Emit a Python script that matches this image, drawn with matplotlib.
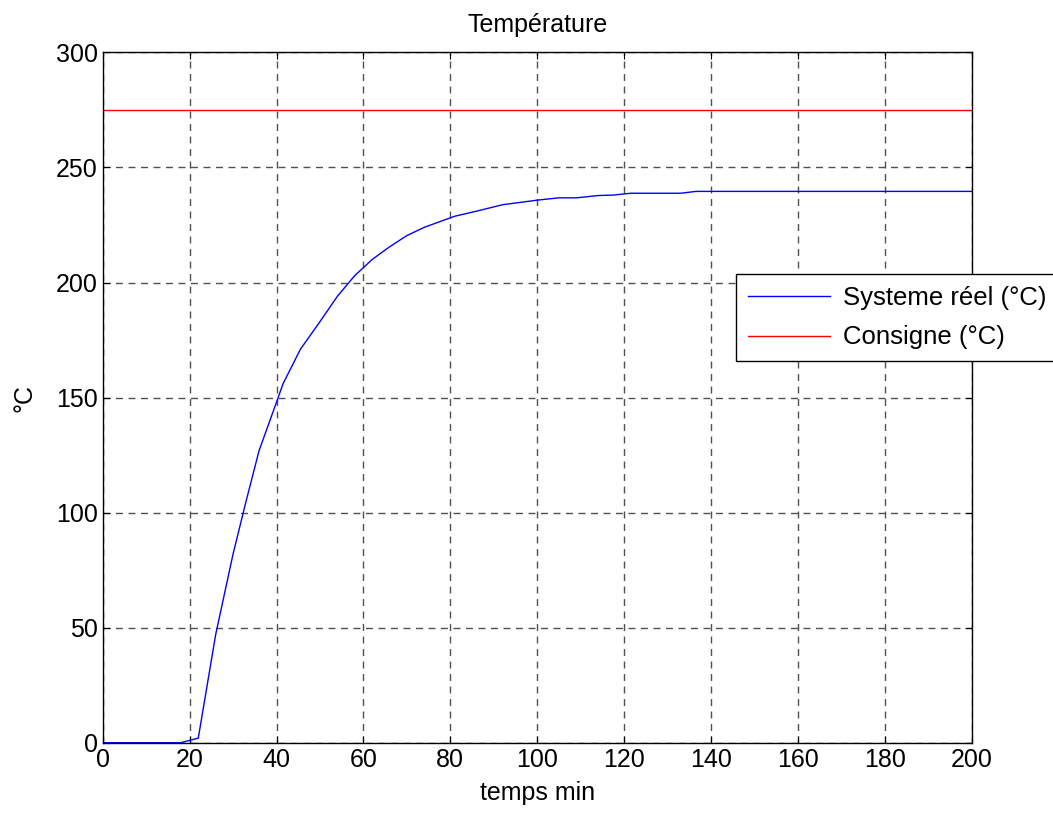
import numpy as np
import matplotlib.pyplot as plt

plt.rcParams['font.family'] = ['Liberation Sans', 'DejaVu Sans']

# temps (min) and measured temperature (°C)
temps = [0, 10, 18, 20, 22, 26, 30, 33, 36, 40, 41.5, 45.5, 50, 54, 58, 62, 66, 70,
         74, 81, 86, 92, 100, 105, 109, 114, 117.5, 121.5, 133, 136.5, 150, 200]
systeme = [0, 0, 0, 1, 2, 47, 82, 105, 127, 148, 156, 171, 183, 194, 203, 210, 215.5, 220.4,
           224, 228.8, 231, 233.8, 235.8, 236.8, 236.8, 237.8, 238, 238.8, 238.8, 239.6, 239.6, 239.6]
consigne_t = [0, 200]
consigne = [275, 275]

fig = plt.figure(figsize=(10.53, 8.14), dpi=100)
ax = fig.add_axes([0.0975, 0.0876, 0.8255, 0.848])

ax.plot(temps, systeme, color='blue', linewidth=1.0, label='Systeme réel (°C)')
ax.plot(consigne_t, consigne, color='red', linewidth=1.0, label='Consigne (°C)')

ax.set_xlim(0, 200)
ax.set_ylim(0, 300)
ax.set_xticks(np.arange(0, 201, 20))
ax.set_yticks(np.arange(0, 301, 50))
ax.tick_params(direction='in', labelsize=18, length=5, top=True, right=True)
ax.grid(True, linestyle=(0, (5, 4)), color='#505050', linewidth=1.0)
for s in ax.spines.values():
    s.set_linewidth(1.0)

ax.set_title('Température', fontsize=18, y=1.04, va='center', pad=0)
ax.set_xlabel('temps min', fontsize=18)
ax.set_ylabel('°C', fontsize=18)
ax.xaxis.set_label_coords(0.5, -0.073)
ax.xaxis.label.set_va('center')
ax.yaxis.set_label_coords(-0.09, 0.5)
ax.yaxis.label.set_va('center')

leg = ax.legend(loc='upper left', bbox_to_anchor=(736 / 1053, 1 - 274 / 814),
                bbox_transform=fig.transFigure, fontsize=18.5, fancybox=False,
                framealpha=1, edgecolor='black', handlelength=3.2,
                borderpad=0.45, labelspacing=0.62, borderaxespad=0, handletextpad=0.5)
leg.get_frame().set_linewidth(1.0)

plt.savefig('out.png', dpi=100)
